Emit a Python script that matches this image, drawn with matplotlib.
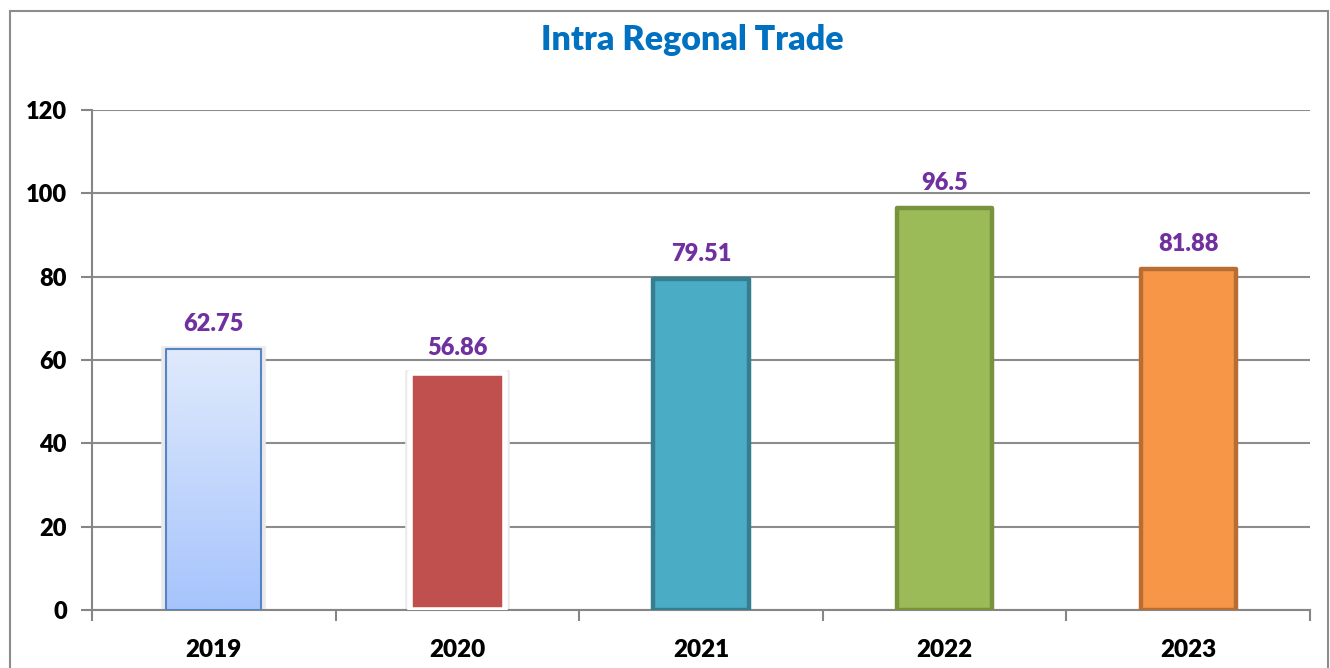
"""
Intra Regonal Trade bar chart
"""

import numpy as np
import matplotlib.pyplot as plt
from matplotlib.patches import Rectangle
from matplotlib.colors import LinearSegmentedColormap

plt.rcParams['font.family'] = ['Lato', 'DejaVu Sans']

# data
years = ['2019', '2020', '2021', '2022', '2023']
values = [62.75, 56.86, 79.51, 96.5, 81.88]
labels = ['62.75', '56.86', '79.51', '96.5', '81.88']
fills = ['#C6D9FC', '#C0504D', '#4BACC6', '#9BBB59', '#F79646']
edges = ['#5585C5', 'white', '#357E90', '#77933C', '#B86E32']
yticks = [0, 20, 40, 60, 80, 100, 120]

fig = plt.figure(figsize=(13.3, 6.68), dpi=100)
ax = fig.add_axes([92 / 1330, 1 - 610 / 668, 1218 / 1330, 500 / 668])

x = np.arange(len(years))
width = 0.39

# light gray shadow behind the first two bars
for i in (0, 1):
    ax.bar(x[i], values[i], width=width + 0.015, color='none',
           edgecolor='#EAEAEA', linewidth=4, zorder=2)

bars = ax.bar(x, values, width=width, color=fills, edgecolor=edges,
              linewidth=3.2, zorder=3)
for b in bars:
    b.set_joinstyle('round')
bars[0].set_linewidth(1.5)
bars[1].set_linewidth(4)

# gradient fill for 2019
cmap = LinearSegmentedColormap.from_list('blu', ['#A6C4FC', '#E0EAFC'])
b0 = bars[0]
grad = np.linspace(0, 1, 256).reshape(-1, 1)
im = ax.imshow(grad, cmap=cmap, origin='lower', aspect='auto',
               extent=[b0.get_x(), b0.get_x() + b0.get_width(), 0, values[0]],
               zorder=3.5)
im.set_clip_path(b0)
b0.set_facecolor('none')
b0.set_zorder(4)

for xi, v, lab in zip(x, values, labels):
    ax.annotate(lab, (xi, v), xytext=(0, 10), textcoords='offset points',
                ha='center', va='bottom', color='#7030A0',
                fontsize=17, fontweight='heavy')

ax.set_xlim(-0.5, len(years) - 0.5)
ax.set_ylim(0, 120)
ax.set_yticks(yticks)
ax.set_yticklabels([str(t) for t in yticks], fontsize=17, fontweight='heavy')
ax.set_xticks(x)
ax.set_xticklabels(years, fontsize=17.5, fontweight='heavy')
ax.set_xticks(np.arange(-0.5, len(years)), minor=True)
ax.tick_params(axis='x', which='major', length=0, pad=21)
ax.tick_params(axis='x', which='minor', length=8, width=1.5, color='#868686')
ax.tick_params(axis='y', length=8, width=1.5, color='#868686', pad=10)

ax.yaxis.grid(True, color='#8C8C8C', linewidth=1.5, zorder=1)
ax.set_axisbelow(True)
for s in ('top', 'right'):
    ax.spines[s].set_visible(False)
for s in ('left', 'bottom'):
    ax.spines[s].set_color('#868686')
    ax.spines[s].set_linewidth(1.5)

fig.text(692 / 1330, 1 - 40 / 668, 'Intra Regonal Trade', ha='center',
         va='center', color='#0070C0', fontsize=24.5, fontweight='heavy')

# chart area border
fig.add_artist(Rectangle((10 / 1330, -0.05), 1318 / 1330, 1.05 - 11 / 668,
                         transform=fig.transFigure, fill=False,
                         edgecolor='#8C8C8C', linewidth=1.5))

fig.savefig('out.png', dpi=100)
